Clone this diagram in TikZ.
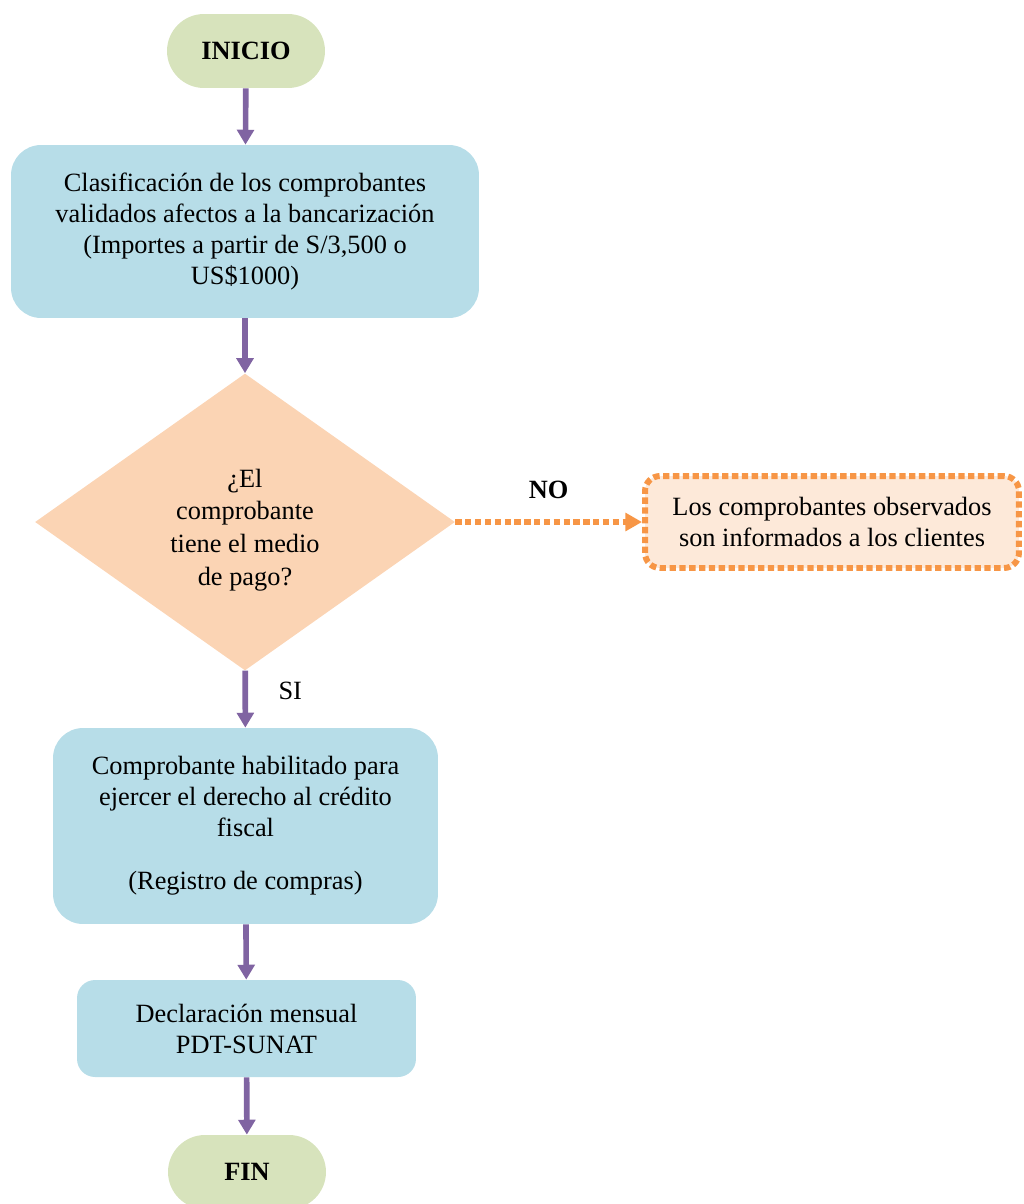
\documentclass[tikz,border=0pt]{standalone}
\usepackage{fontspec}
\setmainfont{Liberation Serif}
\usetikzlibrary{arrows.meta,shapes.geometric}

\definecolor{termgreen}{RGB}{215,227,188}
\definecolor{procblue}{RGB}{183,221,232}
\definecolor{decpeach}{RGB}{251,212,180}
\definecolor{notepeach}{RGB}{253,233,217}
\definecolor{dotorange}{RGB}{247,150,70}
\definecolor{arrowpurple}{RGB}{128,100,162}

\begin{document}
\begin{tikzpicture}[x=0.02cm,y=-0.02cm,
  >={Triangle[length=8.5pt,width=9.5pt]},
  font=\fontsize{15}{17.6}\selectfont,
  term node/.style={rectangle,rounded corners=0.74cm,fill=termgreen,
    minimum width=3.16cm,minimum height=1.48cm,font=\fontsize{15}{17.6}\selectfont\bfseries},
  proc node/.style={rectangle,rounded corners=0.6cm,fill=procblue,align=center},
  dec node/.style={diamond,fill=decpeach,inner sep=0pt,
    minimum width=8.4cm,minimum height=5.94cm},
  note node/.style={rectangle,rounded corners=0.3cm,fill=notepeach,align=center,
    draw=dotorange,line width=3.4pt,dash pattern=on 3.6pt off 2pt,
    minimum width=7.48cm,minimum height=1.84cm},
  flow/.style={->,draw=arrowpurple,fill=arrowpurple,line width=3.2pt},
  noflow/.style={-{Triangle[length=9.5pt,width=10pt]},draw=dotorange,fill=dotorange,
    line width=3.4pt,dash pattern=on 3.6pt off 2pt}]

  \useasboundingbox (0,0) rectangle (1024,1204);

  \node[term node] (inicio) at (246,51) {INICIO};
  \node[proc node,minimum width=9.36cm,minimum height=3.46cm] (clasif) at (245,231.5)
    {Clasificación de los comprobantes\\validados afectos a la bancarización\\(Importes a partir de S/3,500 o\\US\$1000)};
  \node[dec node,label={[align=center,yshift=-0.16cm]center:{¿El\\[1pt]comprobante\\[1pt]tiene el medio\\[1pt]de pago?}}]
    (medio) at (245,522) {};
  \node[note node] (observ) at (832,522)
    {Los comprobantes observados\\son informados a los clientes};
  \node[proc node,minimum width=7.7cm,minimum height=3.92cm] (habil) at (245.5,826)
    {Comprobante habilitado para\\ejercer el derecho al crédito\\fiscal\\[0.85em](Registro de compras)};
  \node[proc node,rounded corners=0.36cm,minimum width=6.78cm,minimum height=1.94cm] (decl) at (246.5,1028.5)
    {Declaración mensual\\PDT-SUNAT};
  \node[term node] (fin) at (247,1172) {FIN};

  \path[flow]
    (inicio) edge (clasif)
    (clasif) edge (medio)
    (medio) edge node[pos=0.36,right=14pt,text=black] {SI} (habil)
    (habil) edge (decl)
    (decl) edge (fin);
  \path[noflow]
    (medio) edge node[above=8pt,text=black,font=\fontsize{15}{17.6}\selectfont\bfseries,solid] {NO} (observ);
\end{tikzpicture}
\end{document}
